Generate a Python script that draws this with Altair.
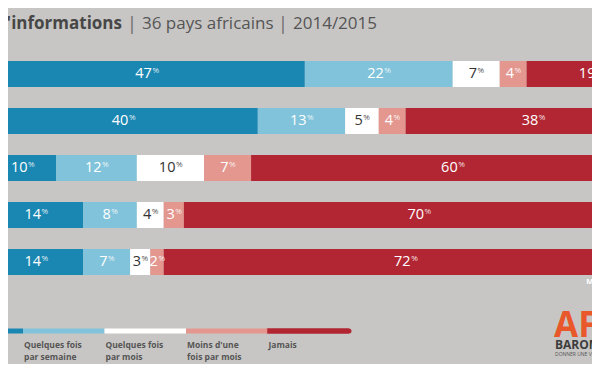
import altair as alt
import pandas as pd

# ---------------- data ----------------
medias = ["Radio", "Télévision", "Presse écrite", "Internet", "Médias sociaux"]
medias_labels = ["RADIO", "TÉLÉVISION", "PRESSE ÉCRITE", "INTERNET", "MÉDIAS SOCIAUX"]
frequences = ["Tous les jours", "Quelques fois par semaine", "Quelques fois par mois",
              "Moins d'une fois par mois", "Jamais"]
legende_textes = ["Tous les\njours", "Quelques fois\npar semaine", "Quelques fois\npar mois",
                  "Moins d'une\nfois par mois", "Jamais"]
couleurs = ["#1a87b3", "#80c3da", "#ffffff", "#e3978f", "#b22633"]

tous_les_jours = [47, 40, 10, 14, 14]
par_semaine = [22, 13, 12, 8, 7]
par_mois = [7, 5, 10, 4, 3]
moins_mois = [4, 4, 7, 3, 2]
jamais = [19, 38, 60, 70, 72]

titre_gras = "Fréquence d'utilisation des sources d'informations"
titre_pays = "36 pays africains"
titre_annee = "2014/2015"

# ---------------- tables ----------------
series = [tous_les_jours, par_semaine, par_mois, moins_mois, jamais]
rows = []
for i, m in enumerate(medias):
    cum = 0
    for j, f in enumerate(frequences):
        v = series[j][i]
        rows.append({
            "media": m, "freq": f, "ordre": j, "val": v,
            "start": cum, "end": cum + v, "mid": cum + v / 2,
            "ndig": len(str(v)),
            "tcol": "#333333" if f == "Quelques fois par mois" else "#ffffff",
        })
        cum += v
df = pd.DataFrame(rows)
df_lab = pd.DataFrame({"media": medias, "lab": medias_labels})
df_leg = pd.DataFrame({"freq": frequences, "li": list(range(5)),
                       "li1": [i + 1 for i in range(5)], "txt": legende_textes})

FONT = "Open Sans"
W, H = 584, 356

xs = alt.Scale(domain=[0, 100], range=[-19, 653])
ys = alt.Scale(domain=medias, range=[42.5, 277.5], paddingInner=0.447, paddingOuter=0.2235)
cs = alt.Scale(domain=frequences, range=couleurs)
ls = alt.Scale(domain=[0, 5], range=[-66.5, 341])

base = alt.Chart(df)

bars = base.mark_bar(stroke=None).encode(
    x=alt.X("start:Q", scale=xs, axis=None),
    x2="end:Q",
    y=alt.Y("media:N", scale=ys, axis=None, sort=medias),
    color=alt.Color("freq:N", scale=cs, legend=None),
)

def num_layer(nd, k):
    b = base.transform_filter(alt.datum.ndig == nd)
    n = b.mark_text(align="right", baseline="middle", fontSize=14.5, font=FONT, dx=k).encode(
        x=alt.X("mid:Q", scale=xs, axis=None),
        y=alt.Y("media:N", scale=ys, axis=None, sort=medias),
        text="val:Q",
        color=alt.Color("tcol:N", scale=None),
    )
    p = b.mark_text(align="left", baseline="middle", fontSize=8, font=FONT, dx=k + 0.5, dy=-3.5).encode(
        x=alt.X("mid:Q", scale=xs, axis=None),
        y=alt.Y("media:N", scale=ys, axis=None, sort=medias),
        text=alt.value("%"),
        color=alt.Color("tcol:N", scale=None),
        opacity=alt.value(0.85),
    )
    return [n, p]

nums = num_layer(2, 5.0) + num_layer(1, 0.9)

row_labels = alt.Chart(df_lab).mark_text(
    align="right", baseline="middle", fontSize=7.5, font=FONT, fontWeight="bold",
    color="#ffffff", dy=20).encode(
    x=alt.value(642),
    y=alt.Y("media:N", scale=ys, axis=None, sort=medias),
    text="lab:N",
)

leg = alt.Chart(df_leg)
leg_round = leg.transform_filter(alt.datum.freq == "Jamais").mark_rule(
    strokeWidth=5, strokeCap="round").encode(
    x=alt.X("li:Q", scale=ls, axis=None), x2="li1:Q", y=alt.value(323),
    color=alt.Color("freq:N", scale=cs, legend=None))
leg_rules = leg.mark_rule(strokeWidth=5, strokeCap="butt").encode(
    x=alt.X("li:Q", scale=ls, axis=None), x2="li1:Q", y=alt.value(323),
    color=alt.Color("freq:N", scale=cs, legend=None))
leg_text = leg.mark_text(align="left", baseline="top", fontSize=8.5, font=FONT,
                         fontWeight="bold", color="#555555", lineBreak="\n",
                         lineHeight=12, dx=1).encode(
    x=alt.X("li:Q", scale=ls, axis=None), y=alt.value(333), text="txt:N")

def note(txt, x, y, size, align="left", weight="normal", color="#4d4d4d", baseline="alphabetic"):
    return alt.Chart(pd.DataFrame({"t": [txt]})).mark_text(
        align=align, baseline=baseline, fontSize=size, font=FONT, fontWeight=weight,
        color=color).encode(x=alt.value(x), y=alt.value(y), text="t:N")

titles = [
    note(titre_gras, 114, 20.5, 17, align="right", weight="bold", color="#474747"),
    note("|", 124, 21.5, 18, align="center", color="#6a6a6a"),
    note(titre_pays, 134, 20.5, 17, color="#555555"),
    note("|", 275, 21.5, 18, align="center", color="#6a6a6a"),
    note(titre_annee, 285, 20.5, 17, color="#555555"),
    note("AFRO", 546, 329, 35, weight="bold", color="#e9582b"),
    note("BAROMETER", 547, 341, 12, weight="bold", color="#3c3c3c"),
    note("DONNER UNE VOIX AUX AFRICAINS", 547, 348, 5, color="#555555"),
]

chart = alt.layer(
    bars, *nums, row_labels, leg_round, leg_rules, leg_text, *titles
).resolve_scale(x="independent").properties(
    width=W, height=H, autosize=alt.AutoSizeParams(type="none"),
    padding=0, background="#c8c6c4",
).configure_view(stroke=None)

chart.save("out.html", embed_options={"renderer": "svg", "actions": False})
